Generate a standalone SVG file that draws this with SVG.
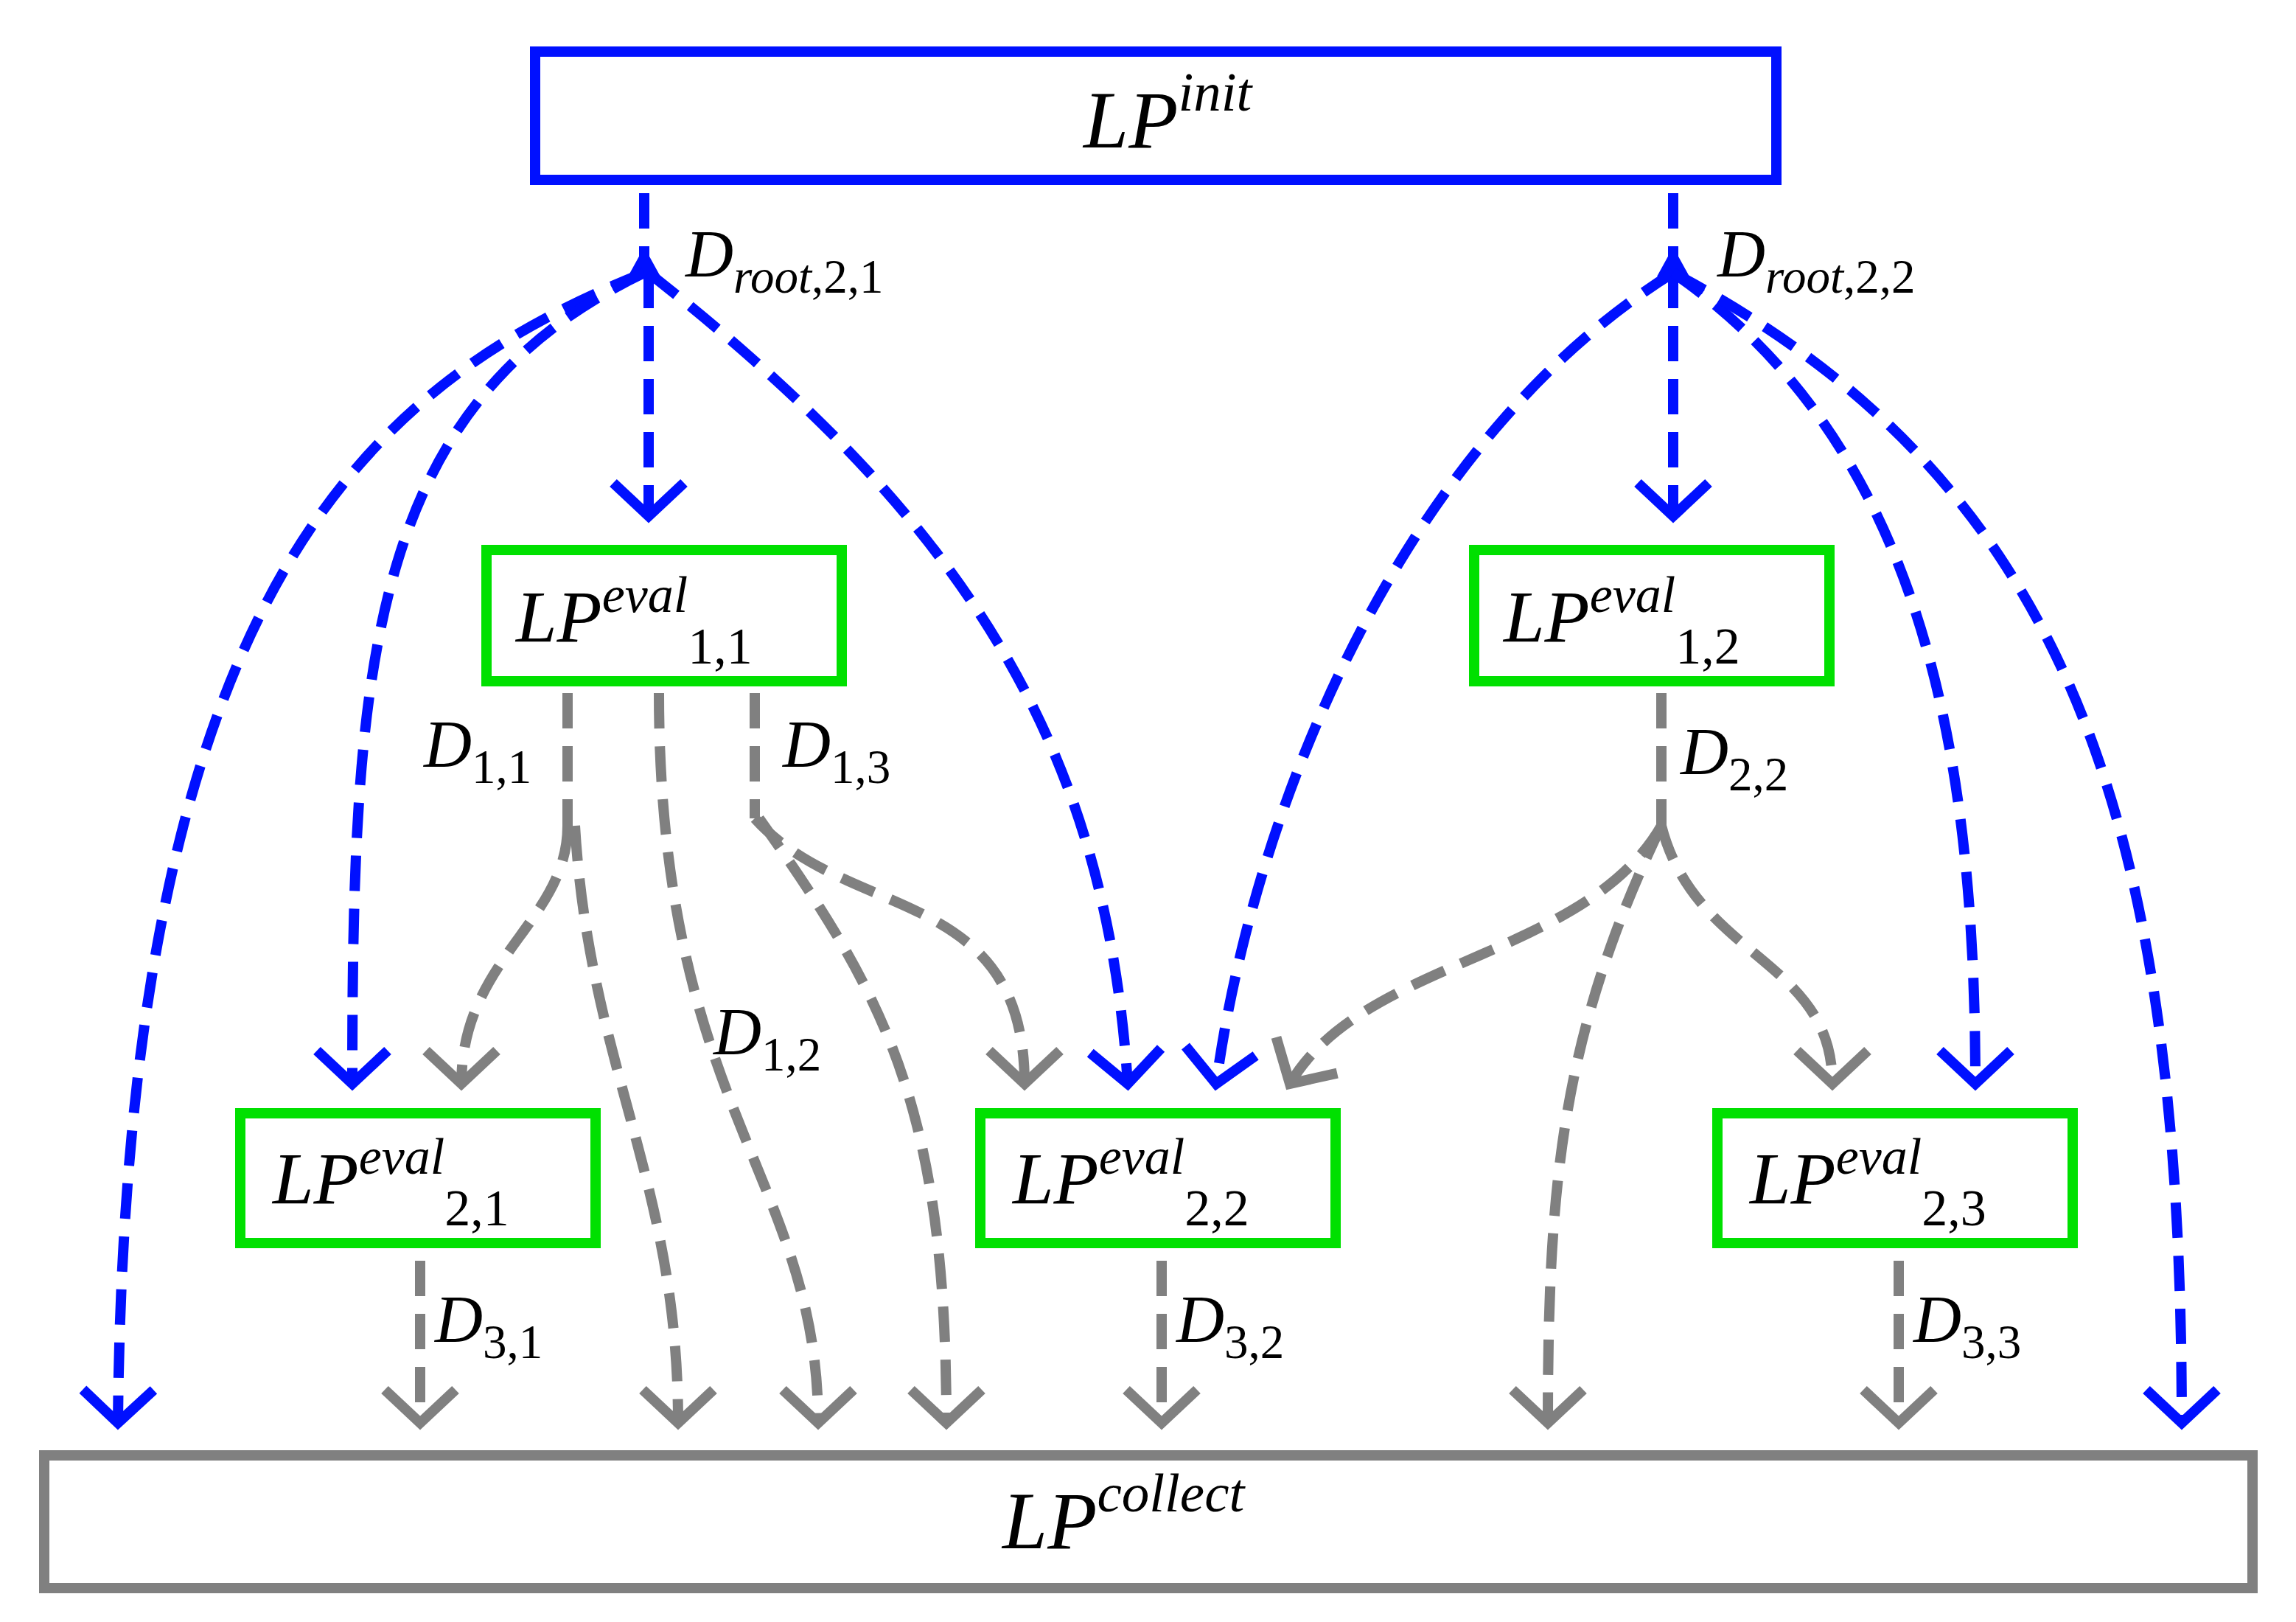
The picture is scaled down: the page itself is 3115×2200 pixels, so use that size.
<svg xmlns="http://www.w3.org/2000/svg" width="3115" height="2200" viewBox="0 0 3115 2200">
<style>
.t{font-family:"Liberation Serif",serif;font-style:italic;fill:#000}
.s{font-style:normal}
.b{fill:none;stroke:#0010ff;stroke-width:14;stroke-dasharray:48 24;marker-end:url(#mb)}
.g{fill:none;stroke:#808080;stroke-width:14;stroke-dasharray:48 24;marker-end:url(#mg)}
.gn{fill:none;stroke:#808080;stroke-width:14;stroke-dasharray:48 24}
.bn{fill:none;stroke:#0010ff;stroke-width:14;stroke-dasharray:48 24}
</style>
<defs>
<marker id="mb" markerUnits="userSpaceOnUse" viewBox="-60 -60 70 120" refX="0" refY="0" markerWidth="70" markerHeight="120" orient="auto"><path d="M-45,-48 L0,0 L-45,48" fill="none" stroke="#0010ff" stroke-width="14"/></marker>
<marker id="mg" markerUnits="userSpaceOnUse" viewBox="-60 -60 70 120" refX="0" refY="0" markerWidth="70" markerHeight="120" orient="auto"><path d="M-45,-48 L0,0 L-45,48" fill="none" stroke="#808080" stroke-width="14"/></marker>
</defs>
<rect width="3115" height="2200" fill="#fff"/>
<g id="init"><rect x="726" y="70" width="1684" height="174" fill="#fff" stroke="#0010ff" stroke-width="14"/><text class="t" x="1470" y="200" font-size="110">LP<tspan font-size="75" dy="-50">init</tspan></text></g>
<g id="e11"><rect x="660" y="746" width="482" height="178" fill="#fff" stroke="#00e000" stroke-width="14"/><text class="t" x="700" y="870" font-size="100">LP<tspan font-size="70" dy="-40">eval</tspan><tspan class="s" font-size="70" dy="70">1,1</tspan></text></g>
<g id="e12"><rect x="2000" y="746" width="482" height="178" fill="#fff" stroke="#00e000" stroke-width="14"/><text class="t" x="2040" y="870" font-size="100">LP<tspan font-size="70" dy="-40">eval</tspan><tspan class="s" font-size="70" dy="70">1,2</tspan></text></g>
<g id="e21"><rect x="326" y="1510" width="482" height="176" fill="#fff" stroke="#00e000" stroke-width="14"/><text class="t" x="370" y="1632" font-size="100">LP<tspan font-size="70" dy="-40">eval</tspan><tspan class="s" font-size="70" dy="70">2,1</tspan></text></g>
<g id="e22"><rect x="1330" y="1510" width="482" height="176" fill="#fff" stroke="#00e000" stroke-width="14"/><text class="t" x="1374" y="1632" font-size="100">LP<tspan font-size="70" dy="-40">eval</tspan><tspan class="s" font-size="70" dy="70">2,2</tspan></text></g>
<g id="e23"><rect x="2330" y="1510" width="482" height="176" fill="#fff" stroke="#00e000" stroke-width="14"/><text class="t" x="2374" y="1632" font-size="100">LP<tspan font-size="70" dy="-40">eval</tspan><tspan class="s" font-size="70" dy="70">2,3</tspan></text></g>
<g id="collect"><rect x="60" y="1974" width="2996" height="180" fill="#fff" stroke="#808080" stroke-width="14"/><text class="t" x="1360" y="2100" font-size="110">LP<tspan font-size="75" dy="-50">collect</tspan></text></g>
<g id="connectors">
<path class="bn" d="M874,262 V360"/>
<path class="bn" d="M2270,262 V360"/>
<path d="M874,335 l-22,40 h44z M2270,335 l-22,40 h44z" fill="#0010ff"/>
<path class="b" d="M874,370 C500,520 170,800 160,1930"/>
<path class="b" d="M874,370 C500,550 478,900 478,1470"/>
<path class="b" d="M880,370 V700"/>
<path class="b" d="M880,370 C1300,700 1500,1000 1530,1470"/>
<path class="b" d="M2270,370 C1900,600 1700,1100 1650,1470"/>
<path class="b" d="M2270,370 V700"/>
<path class="b" d="M2270,370 C2600,600 2680,1000 2680,1470"/>
<path class="b" d="M2270,370 C2800,650 2960,1100 2960,1930"/>
<path class="gn" d="M770,940 V1120"/>
<path class="g" d="M770,1120 C770,1250 626,1300 626,1470"/>
<path class="g" d="M780,1120 C800,1450 920,1600 920,1930"/>
<path class="g" d="M894,940 C894,1500 1110,1600 1110,1930"/>
<path class="gn" d="M1024,940 V1110"/>
<path class="g" d="M1024,1110 C1150,1250 1390,1200 1390,1470"/>
<path class="g" d="M1030,1110 C1200,1350 1284,1500 1284,1930"/>
<path class="gn" d="M2254,940 V1120"/>
<path class="g" d="M2254,1120 C2150,1300 1850,1300 1750,1470"/>
<path class="g" d="M2254,1120 C2300,1300 2486,1300 2486,1470"/>
<path class="g" d="M2254,1120 C2120,1400 2100,1600 2100,1930"/>
<path class="g" d="M570,1710 V1930"/>
<path class="g" d="M1576,1710 V1930"/>
<path class="g" d="M2576,1710 V1930"/>
</g>
<g id="labels">
<text class="t" x="930" y="375" font-size="90">D<tspan font-size="65" dy="22">root</tspan><tspan class="s" font-size="65">,2,1</tspan></text>
<text class="t" x="2330" y="375" font-size="90">D<tspan font-size="65" dy="22">root</tspan><tspan class="s" font-size="65">,2,2</tspan></text>
<text class="t" x="575" y="1040" font-size="90">D<tspan class="s" font-size="65" dy="22">1,1</tspan></text>
<text class="t" x="1062" y="1040" font-size="90">D<tspan class="s" font-size="65" dy="22">1,3</tspan></text>
<text class="t" x="968" y="1430" font-size="90">D<tspan class="s" font-size="65" dy="22">1,2</tspan></text>
<text class="t" x="2280" y="1050" font-size="90">D<tspan class="s" font-size="65" dy="22">2,2</tspan></text>
<text class="t" x="590" y="1820" font-size="90">D<tspan class="s" font-size="65" dy="22">3,1</tspan></text>
<text class="t" x="1596" y="1820" font-size="90">D<tspan class="s" font-size="65" dy="22">3,2</tspan></text>
<text class="t" x="2596" y="1820" font-size="90">D<tspan class="s" font-size="65" dy="22">3,3</tspan></text>
</g>
</svg>
